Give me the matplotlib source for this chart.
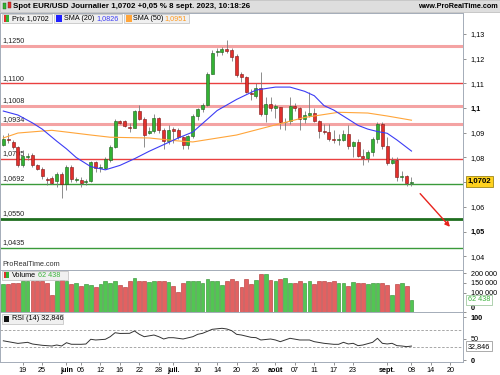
import numpy as np
import pandas as pd
import matplotlib
matplotlib.use('Agg')
import matplotlib.pyplot as plt
from matplotlib.patches import Rectangle
from matplotlib.transforms import blended_transform_factory

plt.rcParams['font.family'] = ['Liberation Sans', 'DejaVu Sans']

# daily EUR/USD candles, business days 15 May -> 8 Sept 2023
dates = pd.bdate_range('2023-05-15', '2023-09-08')

opens = [1.0852, 1.0876, 1.0864, 1.0842, 1.0770, 1.0804, 1.0810, 1.0768, 1.0754, 1.0712,
         1.0716, 1.0705, 1.0732, 1.0692, 1.0763, 1.0710, 1.0710, 1.0700, 1.0705, 1.0783,
         1.0757, 1.0759, 1.0790, 1.0844, 1.0948, 1.0948, 1.0924, 1.0921, 1.0990, 1.0956,
         1.0900, 1.0906, 1.0958, 1.0913, 1.0867, 1.0916, 1.0910, 1.0881, 1.0851, 1.0886,
         1.0968, 1.0998, 1.1011, 1.1140, 1.1226, 1.1229, 1.1238, 1.1235, 1.1212, 1.1137,
         1.1125, 1.1062, 1.1050, 1.1082, 1.0978, 1.1018, 1.0999, 1.1004, 1.0942, 1.0946,
         1.1008, 1.1001, 1.0956, 1.0973, 1.0982, 1.0947, 1.0906, 1.0904, 1.0876, 1.0870,
         1.0871, 1.0896, 1.0846, 1.0862, 1.0808, 1.0798, 1.0822, 1.0875, 1.0935, 1.0845,
         1.0776, 1.0790, 1.0720, 1.0726, 1.0697]
highs = [1.0892, 1.0900, 1.0872, 1.0846, 1.0830, 1.0818, 1.0818, 1.0775, 1.0760, 1.0722,
         1.0725, 1.0743, 1.0740, 1.0770, 1.0768, 1.0722, 1.0722, 1.0712, 1.0785, 1.0787,
         1.0773, 1.0800, 1.0850, 1.0955, 1.0952, 1.0952, 1.0938, 1.0993, 1.1012, 1.0963,
         1.0925, 1.0975, 1.0965, 1.0920, 1.0930, 1.0925, 1.0920, 1.0888, 1.0893, 1.0975,
         1.1000, 1.1020, 1.1148, 1.1236, 1.1244, 1.1246, 1.1276, 1.1243, 1.1220, 1.1145,
         1.1130, 1.1078, 1.1100, 1.1148, 1.1045, 1.1045, 1.1015, 1.1006, 1.0960, 1.1043,
         1.1020, 1.1005, 1.0990, 1.1065, 1.1000, 1.0950, 1.0935, 1.0935, 1.0910, 1.0897,
         1.0910, 1.0930, 1.0865, 1.0875, 1.0835, 1.0830, 1.0882, 1.0945, 1.0945, 1.0882,
         1.0800, 1.0800, 1.0745, 1.0730, 1.0720]
lows = [1.0846, 1.0860, 1.0836, 1.0760, 1.0762, 1.0790, 1.0762, 1.0748, 1.0712, 1.0690,
        1.0694, 1.0682, 1.0635, 1.0668, 1.0702, 1.0702, 1.0682, 1.0690, 1.0700, 1.0743,
        1.0743, 1.0755, 1.0783, 1.0838, 1.0935, 1.0922, 1.0905, 1.0918, 1.0950, 1.0844,
        1.0897, 1.0898, 1.0900, 1.0833, 1.0855, 1.0858, 1.0873, 1.0833, 1.0835, 1.0880,
        1.0950, 1.0983, 1.1008, 1.1138, 1.1210, 1.1215, 1.1222, 1.1190, 1.1125, 1.1105,
        1.1060, 1.1034, 1.1040, 1.0970, 1.0945, 1.0990, 1.0960, 1.0915, 1.0912, 1.0935,
        1.0990, 1.0912, 1.0940, 1.0965, 1.0945, 1.0878, 1.0895, 1.0868, 1.0860, 1.0852,
        1.0866, 1.0833, 1.0803, 1.0800, 1.0770, 1.0780, 1.0806, 1.0860, 1.0835, 1.0770,
        1.0775, 1.0705, 1.0705, 1.0686, 1.0685]
closes = [1.0874, 1.0870, 1.0842, 1.0768, 1.0808, 1.0807, 1.0768, 1.0755, 1.0724, 1.0709,
          1.0698, 1.0732, 1.0692, 1.0763, 1.0711, 1.0712, 1.0697, 1.0703, 1.0783, 1.0759,
          1.0760, 1.0793, 1.0844, 1.0948, 1.0939, 1.0926, 1.0921, 1.0990, 1.0956, 1.0893,
          1.0906, 1.0958, 1.0913, 1.0867, 1.0911, 1.0906, 1.0882, 1.0851, 1.0886, 1.0968,
          1.0998, 1.1011, 1.1140, 1.1225, 1.1232, 1.1240, 1.1232, 1.1208, 1.1135, 1.1126,
          1.1065, 1.1057, 1.1082, 1.0978, 1.1018, 1.0999, 1.1010, 1.0942, 1.0944, 1.1008,
          1.1001, 1.0956, 1.0973, 1.0982, 1.0947, 1.0908, 1.0904, 1.0875, 1.0872, 1.0874,
          1.0896, 1.0846, 1.0862, 1.0808, 1.0798, 1.0822, 1.0875, 1.0935, 1.0845, 1.0776,
          1.0790, 1.0720, 1.0726, 1.0696, 1.0702]
volumes = [144000, 144000, 150000, 150000, 157000, 162000, 162000, 162000, 157000, 150000,
           90000, 162000, 166000, 162000, 144000, 150000, 135000, 144000, 141000, 130000,
           144000, 157000, 148000, 157000, 141000, 130000, 162000, 175000, 160000, 162000,
           153000, 162000, 162000, 162000, 153000, 135000, 104000, 150000, 162000, 157000,
           157000, 148000, 171000, 162000, 157000, 141000, 162000, 168000, 162000, 131000,
           168000, 144000, 166000, 198000, 193000, 166000, 159000, 171000, 177000, 150000,
           150000, 159000, 150000, 160000, 144000, 159000, 159000, 153000, 159000, 148000,
           148000, 135000, 155000, 150000, 150000, 142000, 150000, 150000, 150000, 141000,
           90000, 142000, 150000, 135000, 62438]

# moving averages and RSI (candle index, value)
sma20_idx = [0, 3, 6, 8, 11, 13, 15, 18, 21, 24, 27, 30, 33, 36, 39, 42, 44, 48, 52, 56,
             59, 62, 64, 66, 68, 71, 73, 75, 77, 79, 81, 84]
sma20_val = [1.0988, 1.0972, 1.0940, 1.0915, 1.0866, 1.0835, 1.0800, 1.0763, 1.0750, 1.0768,
             1.0795, 1.0825, 1.0852, 1.0879, 1.0903, 1.0955, 1.0990, 1.1035, 1.1073, 1.1085,
             1.1085, 1.1068, 1.1050, 1.1010, 1.0992, 1.0955, 1.0930, 1.0915, 1.0905, 1.0898,
             1.0871, 1.0826]
sma50_idx = [0, 3, 8, 10, 13, 18, 22, 27, 30, 36, 39, 48, 56, 62, 69, 75, 79, 84]
sma50_val = [1.0879, 1.0899, 1.0907, 1.0910, 1.0903, 1.0891, 1.0882, 1.0880, 1.0879, 1.0867,
             1.0863, 1.0891, 1.0932, 1.0962, 1.0983, 1.0980, 1.0968, 1.0951]
rsi_idx = [0, 1, 3, 5, 6, 8, 10, 11, 12, 13, 14, 16, 17, 18, 19, 21, 22, 23, 24, 26,
           27, 28, 29, 31, 32, 33, 34, 35, 37, 39, 40, 41, 43, 45, 46, 47, 48, 49, 51, 52,
           53, 55, 56, 57, 58, 59, 61, 63, 64, 66, 68, 69, 70, 71, 72, 73, 74, 76, 77, 78,
           79, 80, 81, 82, 83, 84]
rsi_val = [45.0, 43.0, 39.0, 41.5, 37.6, 34.6, 33.0, 35.3, 33.0, 40.6, 37.0, 36.9, 37.6, 48.5,
           46.9, 48.5, 54.5, 63.7, 62.0, 62.3, 67.7, 60.0, 54.5, 58.4, 54.5, 49.2, 52.2, 52.2,
           49.2, 54.5, 60.0, 62.3, 71.6, 73.9, 72.3, 68.4, 60.0, 58.4, 53.0, 52.3, 46.9, 49.2,
           46.9, 43.0, 46.9, 50.8, 46.9, 46.9, 43.0, 39.2, 36.9, 36.9, 41.5, 37.7, 39.2, 33.8,
           35.3, 41.5, 50.8, 39.2, 37.7, 39.2, 33.8, 33.0, 31.5, 32.846]

# support / resistance lines drawn on the chart
level_values = [1.1250, 1.1100, 1.1008, 1.0934, 1.0795, 1.0692, 1.0550, 1.0435]
level_labels = ['1,1250', '1,1100', '1,1008', '1,0934', '1,0795', '1,0692', '1,0550', '1,0435']
level_colors = ['#f4a3a3', '#ea4040', '#f4a3a3', '#f4a3a3', '#ea4040', '#3a9a3a', '#1f6e1f', '#3a9a3a']
level_widths = [2.2, 1.0, 2.2, 2.2, 1.0, 1.0, 2.0, 1.0]

# 1,07 sits under the last-price badge, so its label is left blank
price_ticks = [1.04, 1.05, 1.06, 1.07, 1.08, 1.09, 1.10, 1.11, 1.12, 1.13]
price_tick_labels = ['1,04', '1,05', '1,06', '', '1,08', '1,09', '1,1', '1,11', '1,12', '1,13']

tick_dates = ['2023-05-19', '2023-05-25', '2023-06-01', '2023-06-06', '2023-06-12', '2023-06-16',
              '2023-06-22', '2023-06-28', '2023-07-03', '2023-07-10', '2023-07-14', '2023-07-20',
              '2023-07-26', '2023-08-01', '2023-08-07', '2023-08-11', '2023-08-17', '2023-08-23',
              '2023-09-01', '2023-09-08', '2023-09-14', '2023-09-20']
tick_labels = ['19', '25', 'juin', '06', '12', '16', '22', '28', 'juil.', '10', '14', '20',
               '26', 'août', '07', '11', '17', '23', 'sept.', '08', '14', '20']
month_labels = ['juin', 'juil.', 'août', 'sept.']

arrow_start = (85.4, 1.0662)
arrow_end = (92.3, 1.0511)

W, H = 500, 375
o = np.array(opens); h = np.array(highs); l = np.array(lows); c = np.array(closes)
x = np.arange(len(dates))
up = c >= o

fig = plt.figure(figsize=(5, 3.75), dpi=100)


def rect(x0, y0, x1, y1, fc, ec='none', lw=0.5, z=10):
    fig.add_artist(Rectangle((x0 / W, 1 - y1 / H), (x1 - x0) / W, (y1 - y0) / H,
                             transform=fig.transFigure, facecolor=fc, edgecolor=ec,
                             lw=lw, zorder=z))


def txt(x0, y0, s, size=5.2, color='black', weight='normal', ha='left', z=11):
    fig.text(x0 / W, 1 - y0 / H, s, fontsize=size, color=color, weight=weight,
             ha=ha, va='center', zorder=z)


frame = '#a4acb8'
xmin, xmax = -0.68, 94.6

ax_p = fig.add_axes([0, 1 - 270 / H, 463 / W, 257.5 / H])
ax_v = fig.add_axes([0, 1 - 312 / H, 463 / W, 42 / H])
ax_r = fig.add_axes([0, 1 - 362 / H, 463 / W, 50 / H])

for ax in (ax_p, ax_v, ax_r):
    ax.set_xlim(xmin, xmax)
    ax.yaxis.tick_right()
    ax.tick_params(axis='y', direction='out', length=2.5, width=0.5, color='#666666',
                   labelsize=5.2, pad=3)
    for s in ax.spines.values():
        s.set_color(frame)
        s.set_linewidth(0.7)

# ---- price panel
ax_p.set_ylim(1.03445, 1.1387)
ax_p.set_xticks([])
ax_p.set_yticks(price_ticks)
ax_p.set_yticklabels(price_tick_labels)
for t in ax_p.get_yticklabels():
    if t.get_text() in ('1,1', '1,05'):
        t.set_fontweight('bold')

ytr = blended_transform_factory(ax_p.transAxes, ax_p.transData)
for val, lab, col, lw in zip(level_values, level_labels, level_colors, level_widths):
    ax_p.axhline(val, color=col, lw=lw, zorder=1)
    ax_p.annotate(lab, (0.006, val), xycoords=ytr, xytext=(0, 1.3), textcoords='offset points',
                  fontsize=5.2, va='bottom', ha='left', color='#222222', zorder=1.5)

ax_p.vlines(x, l, h, color='#7a7a7a', lw=0.6, zorder=3)
body_col = np.where(up, '#33b233', '#e2302c')
body_edge = np.where(up, '#1b5e1b', '#7c1414')
ax_p.bar(x, np.abs(c - o), bottom=np.minimum(o, c), width=0.62, color=body_col,
         edgecolor=body_edge, lw=0.4, zorder=4)

ax_p.plot(sma50_idx, sma50_val, color='#ffa53a', lw=0.8, zorder=5)
ax_p.plot(sma20_idx, sma20_val, color='#3c3cf5', lw=0.8, zorder=5)

ax_p.annotate('', xy=arrow_end, xytext=arrow_start,
              arrowprops=dict(arrowstyle='-|>', color='#e8231c', lw=1.0, mutation_scale=7),
              annotation_clip=False, zorder=6)

ax_p.text(1.01, closes[-1], '1,0702', transform=ytr, fontsize=5.6, weight='bold',
          va='center', ha='left', clip_on=False, zorder=10,
          bbox=dict(boxstyle='square,pad=0.25', fc='#ffd21f', ec='#8a7300', lw=0.5))

# ---- volume panel
ax_v.set_ylim(0, 216000)
ax_v.set_xticks([])
vol_col = np.where(up, '#52c652', '#e36161')
vol_edge = np.where(up, '#2c8a2c', '#b03030')
ax_v.bar(x, volumes, width=0.78, color=vol_col, edgecolor=vol_edge, lw=0.4, zorder=3)
ax_v.set_yticks([0, 100000, 150000, 200000])
ax_v.set_yticklabels(['0', '100 000', '150 000', '200 000'])
lab0 = ax_v.get_yticklabels()[0]
lab0.set_fontweight('bold')
lab0.set_verticalalignment('bottom')
vtr = blended_transform_factory(ax_v.transAxes, ax_v.transData)
ax_v.text(1.01, volumes[-1], '62 438', transform=vtr, fontsize=5.2, color='#3cb43c',
          va='center', ha='left', clip_on=False, zorder=10,
          bbox=dict(boxstyle='square,pad=0.25', fc='white', ec='#8fbf8f', lw=0.5))

# ---- RSI panel
ax_r.set_ylim(-4, 111.6)
ax_r.axhline(70, color='#9a9a9a', lw=0.6, ls=(0, (3, 2)), zorder=1)
ax_r.axhline(30, color='#9a9a9a', lw=0.6, ls=(0, (3, 2)), zorder=1)
ax_r.plot(rsi_idx, rsi_val, color='#333333', lw=0.7, zorder=3)
ax_r.set_yticks([0, 50, 100])
ax_r.set_yticklabels(['0', '50', '100'])
for t in ax_r.get_yticklabels():
    if t.get_text() in ('0', '100'):
        t.set_fontweight('bold')
rtr = blended_transform_factory(ax_r.transAxes, ax_r.transData)
ax_r.text(1.01, rsi_val[-1], '32,846', transform=rtr, fontsize=5.2, color='black',
          va='center', ha='left', clip_on=False, zorder=10,
          bbox=dict(boxstyle='square,pad=0.25', fc='white', ec='#8a8a8a', lw=0.5))

tick_pos = [np.busday_count('2023-05-15', d) for d in tick_dates]
ax_r.set_xticks(tick_pos)
ax_r.set_xticklabels(tick_labels)
ax_r.tick_params(axis='x', length=2, width=0.5, color='#666666', labelsize=5.2, pad=1.5)
for t in ax_r.get_xticklabels():
    if t.get_text() in month_labels:
        t.set_fontweight('bold')

# ---- title bar and legends
rect(0, 0, 500, 12, '#dedede', ec='#b8b8b8', lw=0.5, z=9)
rect(3, 3, 6, 9, '#33b233', ec='#1b5e1b', lw=0.3)
rect(7.5, 2, 10.5, 8, '#e2302c', ec='#7c1414', lw=0.3)
txt(13, 6, 'Spot EUR/USD Journalier 1,0702 +0,05 % 8 sept. 2023, 10:18:26', size=5.7, weight='bold')
txt(498, 6, 'www.ProRealTime.com', size=5.2, weight='bold', ha='right')

rect(2, 14, 52, 23, '#f0f0f0', ec='#bdbdbd')
rect(3.5, 15.5, 6, 21.5, '#e2302c', z=11)
rect(6, 15.5, 8.5, 21.5, '#33b233', z=11)
txt(11.5, 18.7, 'Prix 1,0702')
rect(53.5, 14, 122, 23, '#f0f0f0', ec='#bdbdbd')
rect(55.5, 15.5, 61.5, 21.5, '#1f1fff', z=11)
txt(64.5, 18.7, 'SMA (20)')
txt(96.5, 18.7, '1,0826', color='#3c3cf5')
rect(123.5, 14, 189, 23, '#f0f0f0', ec='#bdbdbd')
rect(125.5, 15.5, 131.5, 21.5, '#ffa53a', z=11)
txt(133, 18.7, 'SMA (50)')
txt(164.5, 18.7, '1,0951', color='#ff9a20')

txt(2, 265, 'ProRealTime.com', size=5.2, color='#333333')

rect(2, 270.5, 68, 279.5, '#f0f0f0', ec='#bdbdbd')
rect(3.5, 272, 6, 278, '#e2302c', z=11)
rect(6, 272, 8.5, 278, '#33b233', z=11)
txt(11.5, 275.2, 'Volume')
txt(38.5, 275.2, '62 438', color='#3cb43c')

rect(2, 314, 63, 323.5, '#f0f0f0', ec='#bdbdbd')
rect(3.5, 315.5, 9, 322, '#111111', z=11)
txt(11.5, 318.9, 'RSI (14) 32,846')

fig.savefig('out.png', dpi=100, facecolor='white')
